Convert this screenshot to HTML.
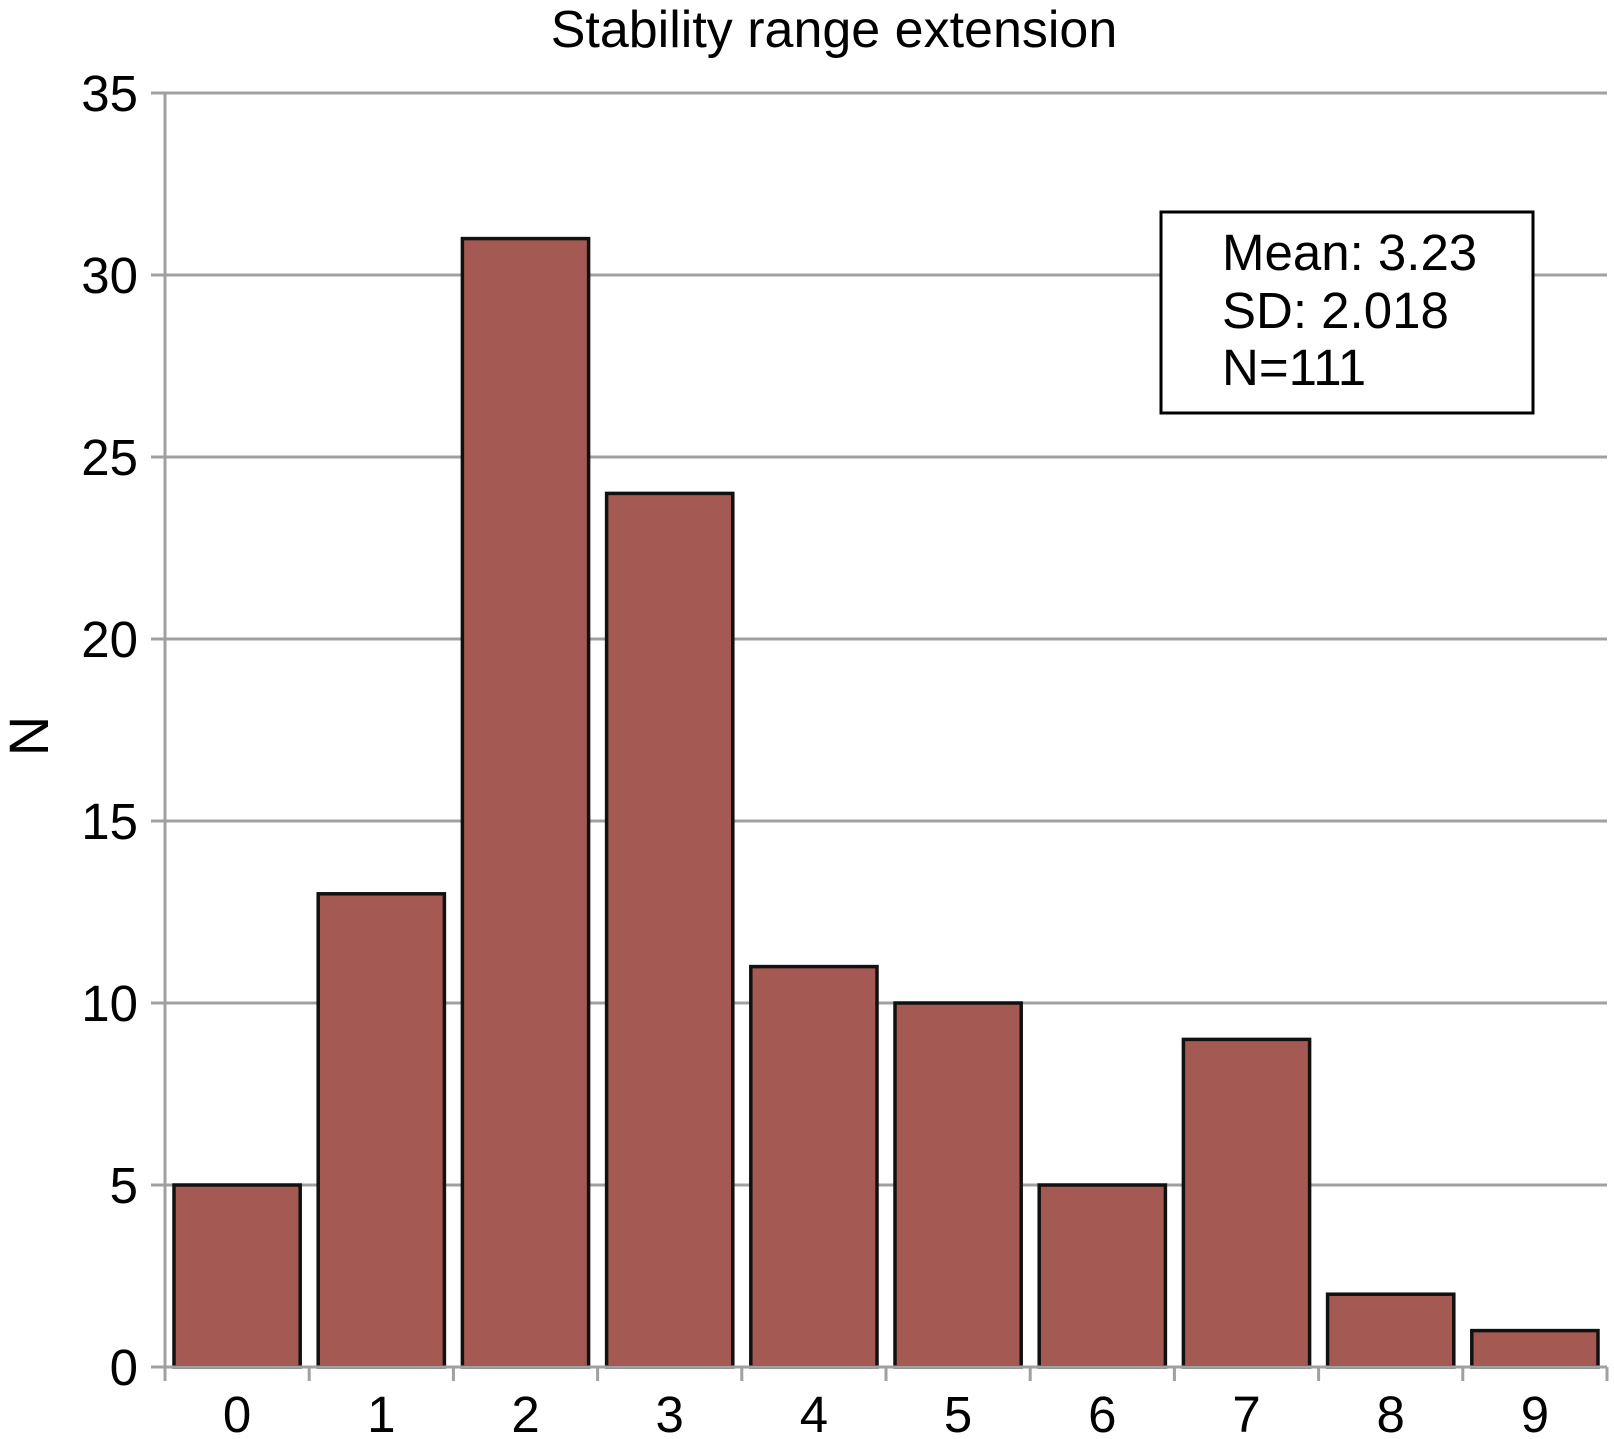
<!DOCTYPE html>
<html><head><meta charset="utf-8"><style>
html,body{margin:0;padding:0;background:#fff;}
svg{display:block;font-family:"Liberation Sans",Arial,sans-serif;}
</style></head><body>
<svg id="chart" width="1614" height="1439" viewBox="0 0 1614 1439">
<text x="834" y="47" font-size="52" text-anchor="middle">Stability range extension</text>
<text transform="translate(48,736) rotate(-90)" font-size="56" text-anchor="middle">N</text>
<g id="grid"></g><g id="bars"></g><g id="axes"></g>
<g>
<rect x="1161" y="212" width="372" height="201" fill="#fff" stroke="#000" stroke-width="3"/>
<text x="1222" y="270" font-size="51">Mean: 3.23</text>
<text x="1222" y="328" font-size="51">SD: 2.018</text>
<text x="1222" y="385" font-size="51">N=111</text>
</g>
</svg>
<script>
const categories=["0","1","2","3","4","5","6","7","8","9"];
const counts=[5,13,31,24,11,10,5,9,2,1];
const yTicks=[0,5,10,15,20,25,30,35];
const NS="http://www.w3.org/2000/svg";
const X0=165,X1=1607,Y0=1367,Y35=93,YMAX=35;
const band=(X1-X0)/categories.length;
const y=v=>Y0-(Y0-Y35)*v/YMAX;
const xb=i=>X0+i*band;
function mk(t,a,p){const e=document.createElementNS(NS,t);for(const k in a)e.setAttribute(k,a[k]);p.appendChild(e);return e;}
const grid=document.getElementById('grid'),bars=document.getElementById('bars'),axes=document.getElementById('axes');
yTicks.forEach(v=>{
 const l=mk('line',{x1:X0-14,x2:X1,y1:y(v),y2:y(v),stroke:'#a0a0a0','stroke-width':3},grid);
 
 
 const t=mk('text',{x:138,y:y(v)+18,'font-size':51,'text-anchor':'end'},axes);
 t.textContent=v;
 
 
});
const ax=mk('line',{x1:X0,x2:X0,y1:Y35,y2:Y0+14,stroke:'#a0a0a0','stroke-width':3},axes);


categories.forEach((c,i)=>{
 const r=mk('rect',{x:xb(i)+9,y:y(counts[i]),width:band-18,height:Y0-y(counts[i]),fill:'#a45a52',stroke:'#111','stroke-width':3.5},bars);
 
 
 const t=mk('text',{x:xb(i)+band/2,y:1432,'font-size':51,'text-anchor':'middle'},axes);
 t.textContent=c;
 
 
});
for(let i=0;i<=categories.length;i++){
 const tk=mk('line',{x1:xb(i),x2:xb(i),y1:Y0,y2:Y0+14,stroke:'#a0a0a0','stroke-width':3},axes);
 
 
}
const xa=mk('line',{x1:X0,x2:X1,y1:Y0,y2:Y0,stroke:'#a0a0a0','stroke-width':3},axes);


</script>
</body></html>
